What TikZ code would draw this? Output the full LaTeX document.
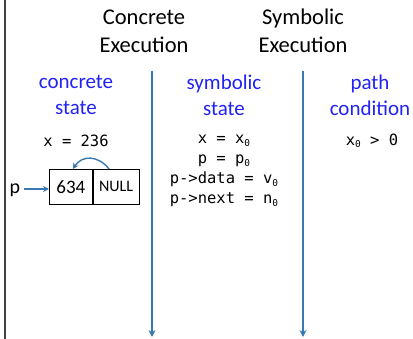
\documentclass[tikz,border=0pt]{standalone}
\usepackage{fontspec}
\setmainfont{Carlito}
\newfontfamily\codefont{DejaVu Sans Mono}
\usetikzlibrary{arrows.meta}
\definecolor{labblue}{HTML}{2222F5}
\definecolor{arrblue}{HTML}{3A78B2}
\definecolor{bordergray}{HTML}{404040}
\newcommand{\zsub}{{\fontsize{9.5}{9.5}\selectfont\raisebox{-2.5pt}{0}}}
\tikzset{
  head/.style={font=\fontsize{22.5}{28}\selectfont, align=center, inner sep=0pt},
  lab/.style={font=\fontsize{21}{26}\selectfont, text=labblue, align=center, inner sep=0pt},
  code/.style={font=\codefont\fontsize{15.5}{20}\selectfont, align=center, inner sep=0pt},
  flow/.style={draw=arrblue, line width=1.6pt, -{Stealth[length=7pt,width=7pt]}},
  cell/.style={draw, line width=0.7pt, minimum height=35pt, inner sep=0pt},
}
\begin{document}
\begin{tikzpicture}[x=1pt,y=-1pt]
\useasboundingbox (0,0) rectangle (413,339);
\draw[bordergray, line width=2pt] (4.5,0) -- (4.5,339);
\node[head] (ce) at (144,31) {Concrete\\Execution};
\node[head] (se) at (303,31) {Symbolic\\Execution};
\coordinate (a1s) at (152,71);
\coordinate (a1e) at (152,337);
\coordinate (a2s) at (303,71);
\coordinate (a2e) at (303,337);
\draw[flow] (a1s) -- (a1e);
\draw[flow] (a2s) -- (a2e);
\node[lab] (cs) at (76,95) {concrete\\state};
\node[lab] (ss) at (224,95) {symbolic\\state};
\node[lab] (pc) at (370,95) {path\\condition};
\node[code] (xv) at (76,141) {x = 236};
\node[code] (sv) at (224,171) {x = x\zsub\\p = p\zsub\\p->data = v\zsub\\p->next = n\zsub};
\node[code] (pv) at (372,141) {x\zsub{} > 0};
\node[cell, minimum width=43pt, anchor=north west, font=\fontsize{19}{19}\selectfont] (c1) at (49,169) {634};
\node[cell, minimum width=46pt, anchor=west, font=\fontsize{16}{16}\selectfont] (c2) at (c1.east) {NULL};
\node[font=\fontsize{20}{20}\selectfont, inner sep=0pt, anchor=base] (p) at (15,194) {p};
\coordinate (ps) at (24,189);
\draw[flow, line width=1.4pt, -{Stealth[length=6pt,width=6pt]}] (ps) -- (c1.west |- ps);
\coordinate (cs1) at ([xshift=-7pt]c2.north);
\coordinate (ce1) at ([xshift=2pt]c1.north);
\draw[flow, line width=1.4pt, -{Stealth[length=6pt,width=6pt]}] (cs1) .. controls (98,155) and (82,155) .. (ce1);
\end{tikzpicture}
\end{document}
